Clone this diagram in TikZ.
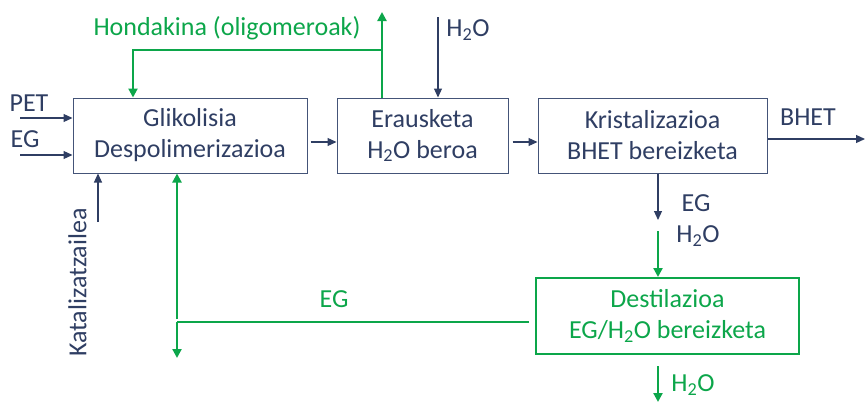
\documentclass[tikz,border=0pt]{standalone}
\usepackage{fontspec}
\setmainfont{Carlito}
\usetikzlibrary{arrows.meta}
\definecolor{navy}{RGB}{47,62,99}
\definecolor{navybox}{RGB}{68,84,120}
\definecolor{grn}{RGB}{12,166,74}
\begin{document}
\begin{tikzpicture}[x=1pt,y=-1pt,
  lbl/.style={font=\fontsize{26}{31}\selectfont, inner sep=0pt, text=navy, align=center},
  glbl/.style={lbl, text=grn},
  box/.style={draw=navybox, line width=1pt, lbl, minimum height=75pt},
  gbox/.style={draw=grn, line width=2pt, glbl, minimum height=76pt},
  narr/.style={draw=navy, line width=1.2pt, -{Triangle[length=9pt,width=8pt]}},
  garr/.style={draw=grn, line width=2.2pt, -{Triangle[length=9pt,width=9pt]}},
  gline/.style={draw=grn, line width=2.2pt}
]
\useasboundingbox (0,0) rectangle (865,402);

% boxes
\node[box, minimum width=234pt] (b1) at (190,135.5) {Glikolisia\\Despolimerizazioa};
\node[box, minimum width=171pt] (b2) at (422.5,135.5) {Erausketa\\H\textsubscript{2}O beroa};
\node[box, minimum width=229pt] (b3) at (652.5,135.5) {Kristalizazioa\\BHET bereizketa};
\node[gbox, minimum width=263pt] (b4) at (667.5,316) {Destilazioa\\EG/H\textsubscript{2}O bereizketa};

% labels
\node[lbl] (lpet) at (29,103) {PET};
\node[lbl] (leg) at (25,139) {EG};
\node[glbl] (lhond) at (227,28) {Hondakina (oligomeroak)};
\node[lbl] (lh2o) at (468,30) {H\textsubscript{2}O};
\node[lbl] (lbhet) at (808,117) {BHET};
\node[lbl, rotate=90] (lkat) at (77.5,282.5) {Katalizatzailea};
\node[glbl] (legg) at (334,299) {EG};
\node[lbl] (legn) at (696,203) {EG};
\node[lbl] (lh2on) at (698,236) {H\textsubscript{2}O};
\node[glbl] (lh2og) at (693,385) {H\textsubscript{2}O};

% coordinates
\coordinate (pet0) at (20,118);
\coordinate (eg0) at (20,155);
\coordinate (h2o0) at (438,17);
\coordinate (bhet1) at (865,139);
\coordinate (kat0) at (98,222);
\coordinate (hk) at (382,50);
\coordinate (hl) at (133,50);
\coordinate (hout) at (382,12);
\coordinate (egs) at (529,322);
\coordinate (egc) at (177,322);
\coordinate (egup) at (177,319);
\coordinate (egdn) at (177,358);
\coordinate (kr1) at (658,220);
\coordinate (gs) at (658,231);
\coordinate (ws) at (658,366);
\coordinate (we) at (658,402);

% navy arrows
\draw[narr] (pet0) -- (b1.west |- pet0);
\draw[narr] (eg0) -- (b1.west |- eg0);
\draw[narr] ([xshift=3pt]b1.east |- 0,142) -- (b2.west |- 0,142);
\draw[narr] ([xshift=4pt]b2.east |- 0,142) -- (b3.west |- 0,142);
\draw[narr] (b3.east |- bhet1) -- (bhet1);
\draw[narr] (h2o0) -- (b2.north -| h2o0);
\draw[narr] (kat0) -- (b1.south -| kat0);
\draw[narr] (b3.south -| kr1) -- (kr1);

% green arrows
\draw[garr] (b2.north -| hout) -- (hout);
\draw[garr] (hk) -- (hl) -- (b1.north -| hl);
\draw[gline] (egs) -- (egc);
\draw[garr] (egc) -- (egdn);
\draw[garr] (egup) -- (b1.south -| egup);
\draw[garr] (gs) -- (b4.north -| gs);
\draw[garr] (ws) -- (we);
\end{tikzpicture}
\end{document}
